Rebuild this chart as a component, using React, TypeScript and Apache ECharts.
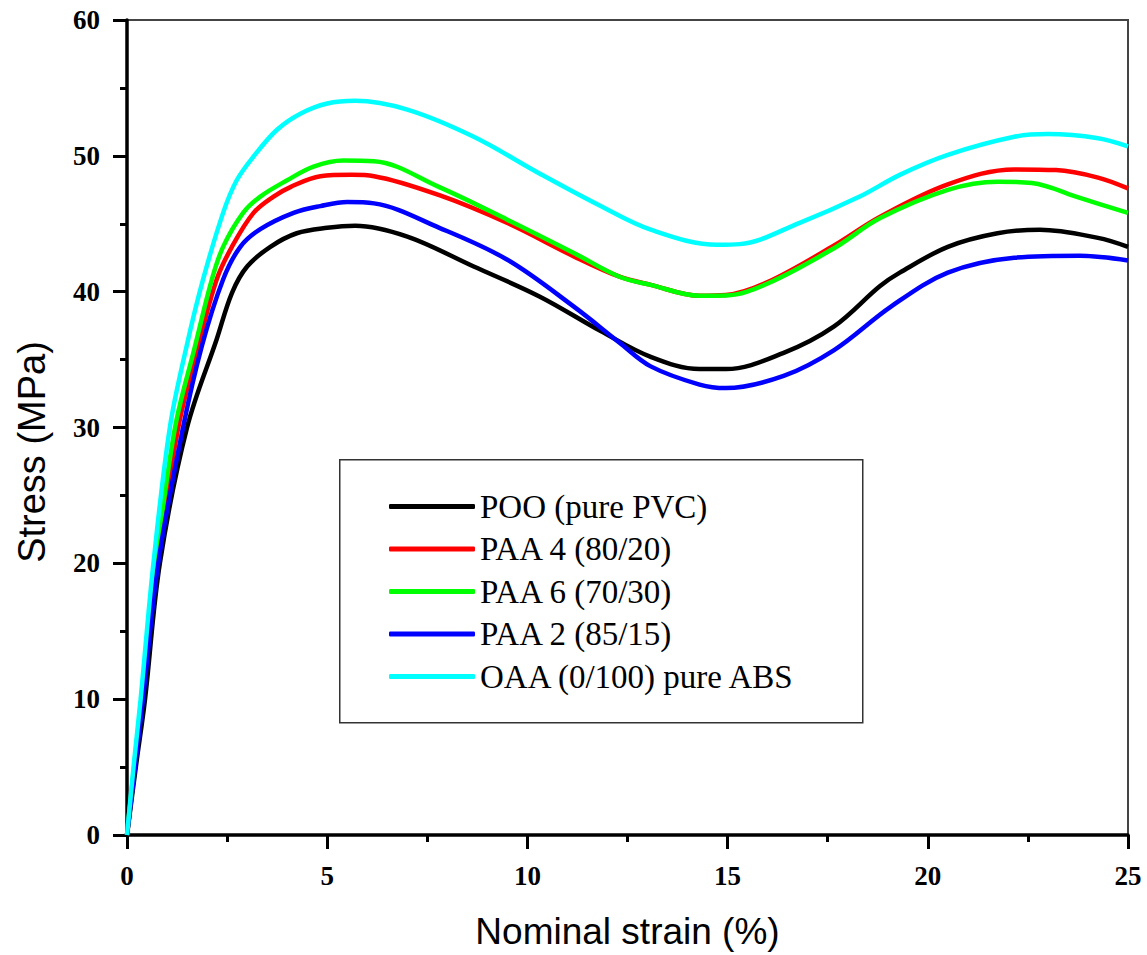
import { useEffect, useRef } from "react";
import * as echarts from "echarts";

// Stress–strain curves: [nominal strain %, stress MPa]
const seriesNames = [
  "POO (pure PVC)",
  "PAA 4 (80/20)",
  "PAA 6 (70/30)",
  "PAA 2 (85/15)",
  "OAA (0/100) pure ABS",
];
const seriesColors = ["#000000", "#ff0000", "#00ff00", "#0000ff", "#00ffff"];

const poo: [number, number][] = [
  [0, 0], [0.22, 5], [0.45, 10], [0.82, 20], [1.5, 30], [2.24, 36.5], [2.62, 39.9],
  [3.0, 41.85], [3.58, 43.3], [4.24, 44.3], [5.0, 44.7], [5.7, 44.85], [7.0, 44.05],
  [8.66, 41.85], [10.3, 39.65], [11.83, 37.1], [13.08, 35.2], [14.3, 34.3],
  [14.96, 34.3], [16.4, 35.5], [17.66, 37.45], [18.8, 40.4], [19.3, 41.4],
  [20.5, 43.3], [21.74, 44.3], [22.8, 44.56], [24.25, 43.96], [25, 43.3],
];
const paa4: [number, number][] = [
  [0, 0], [0.19, 5], [0.37, 10], [0.75, 20], [1.28, 30], [1.78, 36], [2.24, 40.9],
  [2.62, 43.3], [3.16, 45.8], [3.66, 47.0], [4.08, 47.7], [4.83, 48.5], [5.6, 48.6],
  [6.17, 48.5], [7.8, 47.1], [9.5, 45.05], [11.16, 42.6], [12.3, 41.1],
  [13.08, 40.5], [14.3, 39.7], [14.96, 39.75], [16.0, 40.7], [17.66, 43.4],
  [18.8, 45.5], [20.5, 47.9], [22.16, 49.0], [23.2, 48.95], [24.25, 48.4], [25, 47.6],
];
const paa6: [number, number][] = [
  [0, 0], [0.18, 5.1], [0.36, 10], [0.72, 20], [1.2, 30], [1.7, 36], [2.12, 40.9],
  [2.4, 43.3], [2.9, 45.8], [3.33, 47.0], [4.0, 48.2], [4.66, 49.2], [5.4, 49.65],
  [6.17, 49.6], [7.8, 47.7], [9.5, 45.3], [11.16, 42.85], [12.3, 41.1],
  [13.08, 40.5], [14.3, 39.7], [14.96, 39.72], [16.0, 40.6], [17.66, 43.2],
  [18.8, 45.4], [20.5, 47.5], [21.74, 48.1], [22.6, 48.0], [23.8, 46.9], [25, 45.8],
];
const paa2: [number, number][] = [
  [0, 0], [0.2, 5], [0.4, 10], [0.78, 20], [1.4, 30], [1.87, 36], [2.4, 40.9],
  [2.83, 43.3], [3.33, 44.6], [4.16, 45.8], [4.83, 46.3], [5.5, 46.6], [6.17, 46.5],
  [7.8, 44.7], [9.5, 42.35], [11.16, 38.9], [12.3, 36.25], [13.08, 34.5],
  [14.3, 33.16], [14.96, 32.9], [16.4, 33.8], [17.66, 35.7], [19.08, 38.9],
  [20.5, 41.4], [22.16, 42.5], [23.8, 42.65], [25, 42.3],
];
const oaa: [number, number][] = [
  [0, 0], [0.17, 5.2], [0.34, 10], [0.66, 20], [1.07, 30], [1.49, 36], [1.9, 40.9],
  [2.4, 45.8], [2.74, 48.2], [3.16, 49.95], [3.74, 51.9], [4.33, 53.1], [5.0, 53.85],
  [5.7, 54.05], [7.0, 53.4], [8.66, 51.4], [10.3, 48.7], [11.83, 46.3],
  [13.08, 44.56], [14.74, 43.45], [15.3, 43.5], [16.8, 45.06], [18.3, 47.0],
  [19.3, 48.6], [20.5, 50.07], [22.16, 51.4], [23.0, 51.6], [24.25, 51.3], [25, 50.7],
];
const seriesData = [poo, paa4, paa6, paa2, oaa];

const xTitle = "Nominal strain (%)";
const yTitle = "Stress (MPa)";

const serif = "'Liberation Serif', 'Times New Roman', serif";
const sans = "'Liberation Sans', Arial, sans-serif";

export default function App() {
  const ref = useRef<HTMLDivElement>(null);

  useEffect(() => {
    if (!ref.current) return;
    const chart = echarts.init(ref.current, undefined, { renderer: "svg" });

    const axisCommon = {
      axisLine: { show: true, lineStyle: { color: "#000", width: 3.5 } },
      axisTick: { show: true, inside: false, length: 14, lineStyle: { color: "#000", width: 3 } },
      minorTick: { show: true, splitNumber: 2, length: 7, lineStyle: { color: "#000", width: 3 } },
      splitLine: { show: false },
      axisLabel: {
        color: "#000",
        fontFamily: serif,
        fontWeight: "bold" as const,
        fontSize: 27,
        margin: 27,
      },
    };

    chart.setOption({
      animation: false,
      backgroundColor: "#fff",
      grid: {
        left: 127,
        top: 20,
        width: 1001,
        height: 816,
        show: true,
        borderColor: "#444",
        borderWidth: 2,
        backgroundColor: "transparent",
      },
      xAxis: {
        type: "value",
        min: 0,
        max: 25,
        interval: 5,
        name: xTitle,
        nameLocation: "middle",
        nameGap: 78,
        nameTextStyle: { color: "#000", fontFamily: sans, fontSize: 37 },
        ...axisCommon,
      },
      yAxis: {
        type: "value",
        min: 0,
        max: 60,
        interval: 10,
        ...axisCommon,
      },
      legend: {
        show: true,
        orient: "vertical",
        left: 389,
        top: 490,
        itemWidth: 86,
        itemHeight: 5,
        itemGap: 9.5,
        icon: "roundRect",
        selectedMode: false,
        padding: 0,
        textStyle: { color: "#000", fontFamily: serif, fontSize: 33, lineHeight: 32, padding: [0, 0, 0, 0] },
        data: seriesNames,
      },
      graphic: [
        {
          type: "rect",
          left: 339,
          top: 459,
          z: 0,
          shape: { width: 523, height: 263 },
          style: { fill: "#fff", stroke: "#333", lineWidth: 1.5 },
        },
        {
          type: "text",
          x: 32,
          y: 452,
          rotation: Math.PI / 2,
          style: {
            text: yTitle,
            fill: "#000",
            font: `38px ${sans}`,
            align: "center",
            verticalAlign: "middle",
          },
        },
      ],
      series: seriesNames.map((name, i) => ({
        name,
        type: "line",
        data: seriesData[i],
        showSymbol: false,
        symbol: "none",
        smooth: 0.35,
        clip: true,
        lineStyle: { color: seriesColors[i], width: 4.5 },
        itemStyle: { color: seriesColors[i] },
        z: 2 + i,
      })),
    });

    return () => chart.dispose();
  }, []);

  return (
    <div
      ref={ref}
      style={{ position: "fixed", left: 0, top: 0, width: 1147, height: 955, background: "#fff" }}
    />
  );
}
